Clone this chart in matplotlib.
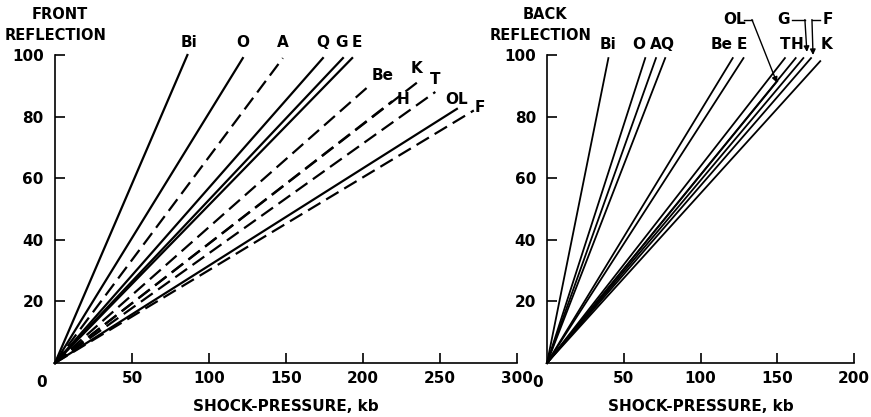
import numpy as np
import matplotlib
matplotlib.use("Agg")
import matplotlib.pyplot as plt

# ---- datos ----
# Reflexion frontal: punto final de cada recta (todas salen del origen)
front_labels = ["Bi", "O", "A", "Q", "G", "E", "Be", "K", "H", "T", "OL", "F"]
front_end_p = [86, 122, 148, 174, 187, 193, 204, 235, 219, 247, 261, 272]
front_end_v = [100, 99, 99, 99, 99, 99, 90, 91, 85, 88, 82.5, 82]
front_dashed = [False, False, True, False, False, False, True, True, True, True, False, True]

# Reflexion posterior
back_labels = ["Bi", "O", "A", "Q", "Be", "E", "OL", "T", "H", "G", "F", "K"]
back_end_p = [40, 64, 71, 77, 121, 128, 150, 155, 162, 167, 172, 178]
back_end_v = [99, 99, 99, 99, 99, 99, 91.5, 99, 99, 99, 99, 98]

front_xticks = [50, 100, 150, 200, 250, 300]
back_xticks = [50, 100, 150, 200]
yticks = [20, 40, 60, 80, 100]

plt.rcParams['font.family'] = ['DejaVu Sans']
plt.rcParams['font.weight'] = 'bold'

fig = plt.figure(figsize=(8.71, 4.17), dpi=100)
ax1 = fig.add_axes([0.0631, 0.1295, 0.5304, 0.7386])
ax2 = fig.add_axes([0.628, 0.1295, 0.3525, 0.7386])


def estilo_ejes(ax, xmax, xticks):
    ax.set_xlim(0, xmax)
    ax.set_ylim(0, 100)
    for s in ['top', 'right']:
        ax.spines[s].set_visible(False)
    for s in ['left', 'bottom']:
        ax.spines[s].set_linewidth(1.2)
    ax.set_xticks(xticks)
    ax.set_yticks(yticks)
    ax.tick_params(direction='in', length=7, width=1.2, labelsize=11, pad=6)
    ax.tick_params(axis='y', pad=8)
    for t in ax.get_xticklabels() + ax.get_yticklabels():
        t.set_fontweight('bold')
    ax.text(-0.03, -0.04, "0", transform=ax.transAxes, ha='center', va='top',
            fontsize=11, fontweight='bold')
    ax.set_xlabel("SHOCK-PRESSURE, kb", fontsize=11, fontweight='bold', labelpad=9)


estilo_ejes(ax1, 300, front_xticks)
estilo_ejes(ax2, 200, back_xticks)

# ---- panel izquierdo ----
for p, v, d in zip(front_end_p, front_end_v, front_dashed):
    ax1.plot([0, p], [0, v], color='black', lw=1.6,
             linestyle=(0, (6.5, 3)) if d else '-', clip_on=False)

front_lab_pos = [(87, 104), (122, 104), (148, 104), (174, 104), (186, 104), (196, 104),
                 (213, 93.5), (235, 95.5), (226, 85.5), (247, 92), (261, 85.5), (276, 83)]
for lab, (x, y) in zip(front_labels, front_lab_pos):
    ax1.text(x, y, lab, ha='center', va='center', fontsize=11, fontweight='bold',
             clip_on=False)

fig.text(0.0689, 0.965, "FRONT", ha='center', va='center', fontsize=10.5, fontweight='bold')
fig.text(0.0643, 0.915, "REFLECTION", ha='center', va='center', fontsize=10.5, fontweight='bold')

# ---- panel derecho ----
for p, v in zip(back_end_p, back_end_v):
    ax2.plot([0, p], [0, v], color='black', lw=1.3, clip_on=False)

back_lab_pos = [(40, 103.5), (60, 103.5), (71, 103.5), (78, 103.5), (114, 103.5), (127, 103.5),
                (122, 111.5), (155, 103.5), (163, 103.5), (154, 111.5), (183, 111.5), (182, 103.5)]
for lab, (x, y) in zip(back_labels, back_lab_pos):
    ax2.text(x, y, lab, ha='center', va='center', fontsize=11, fontweight='bold',
             clip_on=False)

# flechas de OL, G y F
flechas = [
    ([128.5, 133.5], [111.5, 111.5], (149.8, 91.0)),
    ([159.5, 168.0], [111.5, 111.5], (169.3, 101.0)),
    ([178.0, 172.6], [111.5, 111.5], (173.3, 100.0)),
]
for xs, ys, tip in flechas:
    ax2.plot(xs, ys, color='black', lw=1.0, clip_on=False)
    ax2.annotate("", xy=tip, xytext=(xs[-1], ys[-1]), annotation_clip=False,
                 arrowprops=dict(arrowstyle='-|>', color='black', lw=1.0,
                                 mutation_scale=8, shrinkA=0, shrinkB=0))

fig.text(0.626, 0.965, "BACK", ha='center', va='center', fontsize=10.5, fontweight='bold')
fig.text(0.621, 0.915, "REFLECTION", ha='center', va='center', fontsize=10.5, fontweight='bold')

fig.savefig("out.png", dpi=100)
